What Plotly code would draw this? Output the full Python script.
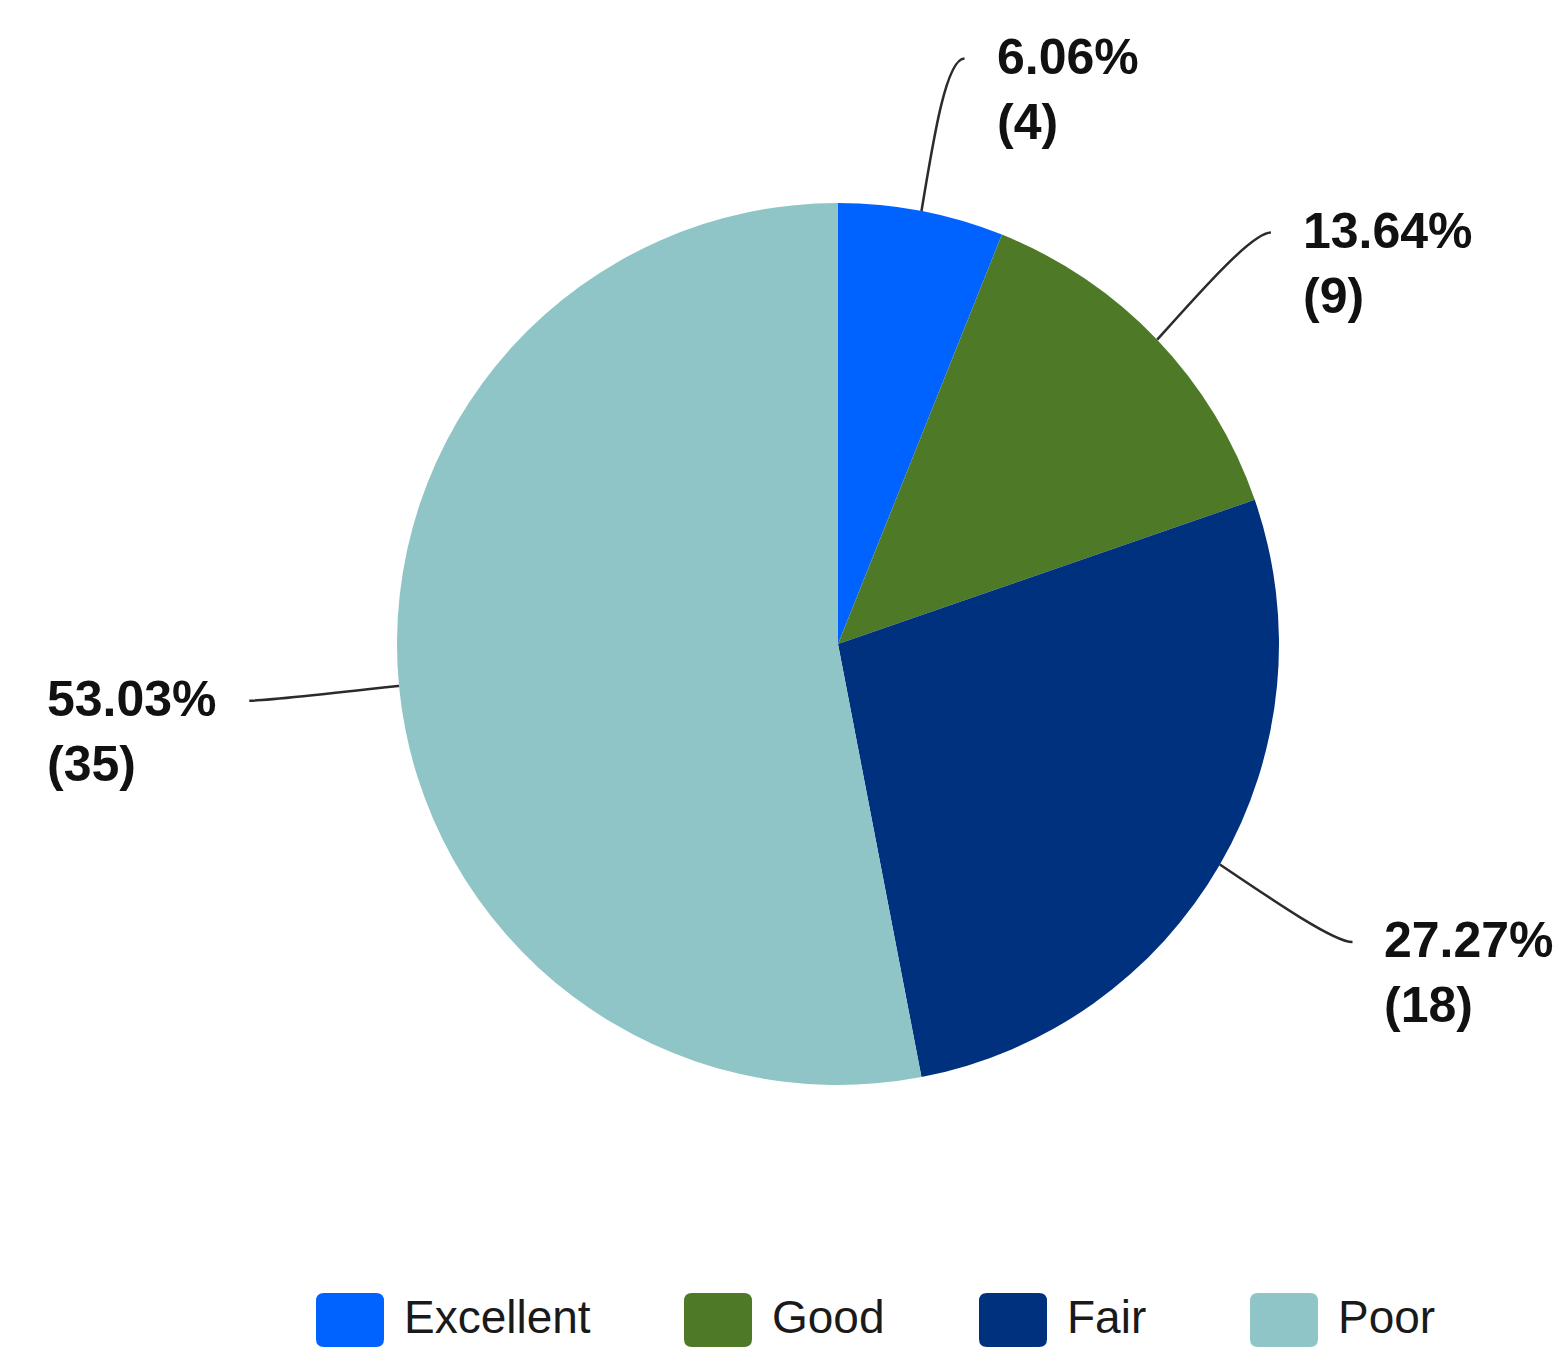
import math
import plotly.graph_objects as go

# Survey ratings
categories = ["Excellent", "Good", "Fair", "Poor"]
counts = [4, 9, 18, 35]
colors = ["#0062FF", "#4E7A28", "#00317E", "#8FC5C6"]

# Canvas and pie geometry (pixels)
W, H = 1560, 1351
CX, CY, R = 838, 644, 441
LABEL_R = 1.30 * R          # where the leader line turns toward its label
LABEL_STRETCH_Y = 1.04
HOOK = 18                   # horizontal tail of each leader line
TEXT_GAP = 30
LABEL_FONT = 50

# Legend layout (pixels)
LEGEND_LEFT = [316, 684, 979, 1250]
SW_W, SW_TOP, SW_BOT = 68, 1293, 1347

total = sum(counts)

fig = go.Figure()

fig.add_trace(go.Pie(
    labels=categories,
    values=counts,
    marker=dict(colors=colors, line=dict(width=0)),
    sort=False,
    direction="clockwise",
    rotation=0,
    textinfo="none",
    hoverinfo="label+value+percent",
    showlegend=False,
    domain=dict(x=[(CX - R) / W, (CX + R) / W],
                y=[(H - CY - R) / H, (H - CY + R) / H]),
))

# Pixel-space helper axes for leader lines, labels and legend
fig.add_trace(go.Scatter(x=[], y=[], showlegend=False, hoverinfo="skip"))

shapes = []
annotations = []

cum = 0
for cat, n in zip(categories, counts):
    mid = (cum + n / 2) / total * 2 * math.pi
    cum += n
    s, c = math.sin(mid), math.cos(mid)
    side = 1 if s >= 0 else -1
    p0 = (CX + R * s, CY - R * c)
    b = (CX + LABEL_R * s, CY - LABEL_R * LABEL_STRETCH_Y * c)
    e = (b[0] + side * HOOK, b[1])
    c1 = (p0[0] + (b[0] - p0[0]) * 0.5, p0[1] + (b[1] - p0[1]) * 0.5)
    shapes.append(dict(
        type="path", xref="x", yref="y",
        path=f"M {p0[0]:.1f},{p0[1]:.1f} C {c1[0]:.1f},{c1[1]:.1f} "
             f"{b[0]:.1f},{b[1]:.1f} {e[0]:.1f},{e[1]:.1f}",
        line=dict(color="#2b2b2b", width=2.5), layer="above",
    ))
    pct = n / total * 100
    annotations.append(dict(
        xref="x", yref="y", x=e[0] + side * TEXT_GAP, y=e[1] - 32,
        xanchor="left" if side > 0 else "right", yanchor="top",
        text=f"<b>{pct:.2f}%<br>({n})</b>", align="left", showarrow=False,
        font=dict(family="Arial, Liberation Sans, sans-serif",
                  size=LABEL_FONT, color="#111111"),
    ))

# Legend row with rounded swatches
rad = 8
for cat, col, x0 in zip(categories, colors, LEGEND_LEFT):
    x1 = x0 + SW_W
    y0, y1 = SW_TOP, SW_BOT
    path = (f"M {x0 + rad},{y0} L {x1 - rad},{y0} Q {x1},{y0} {x1},{y0 + rad} "
            f"L {x1},{y1 - rad} Q {x1},{y1} {x1 - rad},{y1} "
            f"L {x0 + rad},{y1} Q {x0},{y1} {x0},{y1 - rad} "
            f"L {x0},{y0 + rad} Q {x0},{y0} {x0 + rad},{y0} Z")
    shapes.append(dict(type="path", xref="x", yref="y", path=path,
                       fillcolor=col, line=dict(width=0), layer="above"))
    annotations.append(dict(
        xref="x", yref="y", x=x0 + 86, y=(y0 + y1) / 2 - 3,
        xanchor="left", yanchor="middle", text=cat, showarrow=False,
        font=dict(family="Arial, Liberation Sans, sans-serif",
                  size=46, color="#1a1a1a"),
    ))

fig.update_layout(
    width=W, height=H,
    margin=dict(l=0, r=0, t=0, b=0),
    paper_bgcolor="white", plot_bgcolor="rgba(0,0,0,0)",
    showlegend=False,
    xaxis=dict(range=[0, W], visible=False, fixedrange=True, domain=[0, 1]),
    yaxis=dict(range=[H, 0], visible=False, fixedrange=True, domain=[0, 1]),
    shapes=shapes,
    annotations=annotations,
)

fig.write_html("out.html")
